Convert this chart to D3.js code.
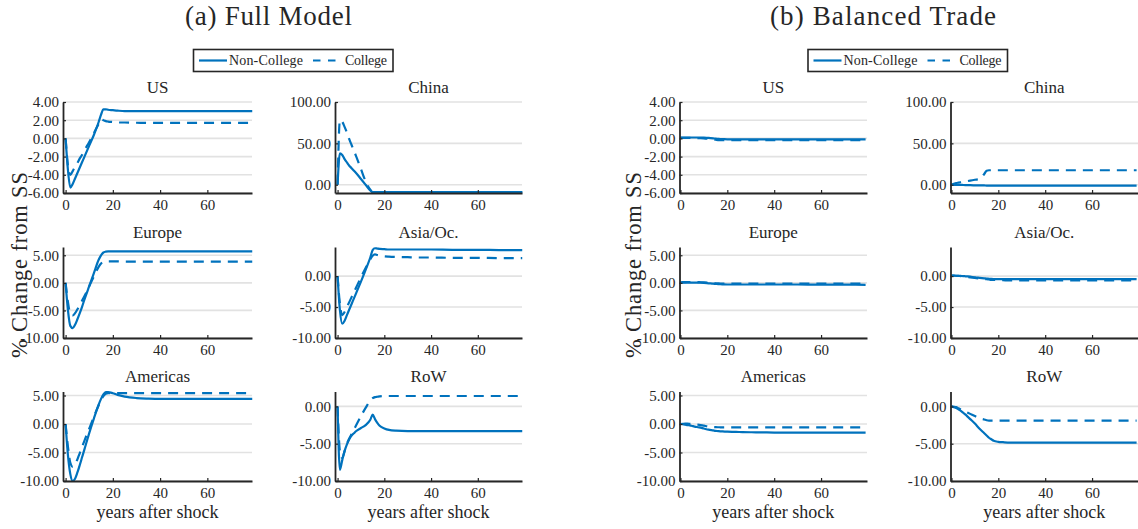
<!DOCTYPE html>
<html>
<head>
<meta charset="utf-8">
<script src="https://cdn.jsdelivr.net/npm/d3@7"></script>
<style>
  html, body { margin: 0; padding: 0; background: #ffffff; }
  svg { display: block; }
  svg text { font-family: "Liberation Serif", "DejaVu Serif", "Noto Serif", serif; fill: #262626; }
</style>
</head>
<body>
<svg id="chart" width="1138" height="529"></svg>
<script>
// ---------------- DATA ----------------
const years = [0,1,2,3,4,5,6,7,8,10,12,14,15,16,17,18,20,22,25,30,35,40,50,60,70,79];
const xTicks = [0, 20, 40, 60];
const regions = ["US", "China", "Europe", "Asia/Oc.", "Americas", "RoW"];
const seriesNames = ["Non-College", "College"];
const panelTitles = ["(a) Full Model", "(b) Balanced Trade"];
const yLabel = "% Change from SS";
const xLabel = "years after shock";

// y-axis limits and ticks per region
const yLow  = [-6, -10, -10, -10, -10, -10];
const yHigh = [4, 100, 6.5, 4.7, 5.7, 2];
const yTicksUS = [-6, -4, -2, 0, 2, 4];
const yTicksChina = [0, 50, 100];
const yTicksEurope = [-10, -5, 0, 5];
const yTicksAsia = [-10, -5, 0];
const yTicksAmericas = [-10, -5, 0, 5];
const yTicksRoW = [-10, -5, 0];

// (a) Full model
const fullUS_NC = [0,-3.5,-5.4,-5.0,-4.4,-3.8,-3.2,-2.6,-2.0,-0.8,0.4,1.8,2.6,3.2,3.2,3.15,3.1,3.05,3.0,3.0,3.0,3.0,3.0,3.0,3.0,3.0];
const fullUS_C  = [0,-3.0,-4.0,-3.6,-3.1,-2.7,-2.2,-1.8,-1.3,-0.4,0.6,1.6,2.1,2.0,1.9,1.85,1.8,1.75,1.75,1.72,1.7,1.7,1.7,1.7,1.7,1.7];
const fullChina_NC = [0,38,36,31,27,23,20,17,14,7,0,-7,-9,-9,-9,-9,-9,-9,-9,-9,-9,-9,-9,-9,-9,-9];
const fullChina_C  = [0,78,76,70,63,55,48,41,34,19,4,-6,-9,-9,-9,-9,-9,-9,-9,-9,-9,-9,-9,-9,-9,-9];
const fullEurope_NC = [0,-5.0,-7.8,-8.2,-7.6,-6.6,-5.5,-4.3,-3.0,-0.6,1.8,4.2,5.0,5.5,5.65,5.7,5.7,5.7,5.7,5.7,5.7,5.7,5.7,5.7,5.7,5.7];
const fullEurope_C  = [0,-3.5,-5.6,-5.9,-5.5,-4.8,-4.0,-3.2,-2.4,-0.6,1.2,2.9,3.5,3.8,3.9,3.9,3.9,3.9,3.85,3.85,3.85,3.85,3.85,3.85,3.85,3.85];
const fullAsia_NC = [0,-5.5,-7.7,-7.2,-6.3,-5.4,-4.5,-3.6,-2.7,-0.9,1.0,3.0,4.2,4.5,4.45,4.4,4.35,4.3,4.3,4.3,4.3,4.3,4.25,4.25,4.2,4.2];
const fullAsia_C  = [0,-4.5,-6.3,-5.8,-5.0,-4.2,-3.4,-2.6,-1.8,-0.2,1.3,2.7,3.3,3.5,3.4,3.3,3.2,3.15,3.1,3.05,3.0,3.0,2.95,2.95,2.9,2.9];
const fullAmericas_NC = [0,-5.5,-8.8,-10,-9.6,-8.5,-7.2,-5.8,-4.4,-1.6,1.0,3.4,4.4,5.2,5.6,5.6,5.4,5.1,4.8,4.55,4.45,4.4,4.4,4.4,4.4,4.4];
const fullAmericas_C  = [0,-4.0,-6.8,-7.5,-7.1,-6.2,-5.1,-4.0,-2.9,-0.8,1.3,3.3,4.2,4.9,5.3,5.4,5.4,5.4,5.4,5.4,5.4,5.4,5.4,5.4,5.4,5.4];
const fullRoW_NC = [0,-8.5,-7.2,-6.0,-5.1,-4.4,-3.9,-3.6,-3.3,-2.9,-2.5,-1.8,-1.1,-1.7,-2.2,-2.6,-2.95,-3.15,-3.25,-3.3,-3.3,-3.3,-3.3,-3.3,-3.3,-3.3];
const fullRoW_C  = [0,-6.0,-6.9,-6.0,-5.0,-4.3,-3.7,-3.1,-2.5,-1.3,-0.2,0.8,1.1,1.25,1.3,1.35,1.4,1.4,1.4,1.4,1.4,1.4,1.4,1.4,1.4,1.4];

// (b) Balanced trade
const balUS_NC = [0.1,0.1,0.1,0.1,0.1,0.1,0.1,0.1,0.1,0.08,0.05,0,-0.03,-0.05,-0.07,-0.08,-0.1,-0.1,-0.1,-0.1,-0.1,-0.1,-0.1,-0.1,-0.1,-0.1];
const balUS_C  = [0.05,0.05,0.05,0.05,0.05,0.05,0.04,0.03,0.02,0,-0.05,-0.12,-0.15,-0.18,-0.2,-0.2,-0.2,-0.2,-0.2,-0.2,-0.2,-0.2,-0.2,-0.2,-0.2,-0.2];
const balChina_NC = [0,-0.1,-0.1,-0.2,-0.2,-0.3,-0.4,-0.5,-0.6,-0.7,-0.8,-0.9,-1.0,-1.0,-1.1,-1.1,-1.2,-1.2,-1.2,-1.2,-1.2,-1.2,-1.2,-1.2,-1.2,-1.2];
const balChina_C  = [0,1,2,2.5,3,3.5,4,4.5,5,6,7,13,17,17.5,17.5,17.5,17.5,17.5,17.5,17.5,17.5,17.5,17.5,17.5,17.5,17.5];
const balEurope_NC = [0,0.02,0.04,0.05,0.05,0.05,0.05,0.04,0.03,0,-0.08,-0.15,-0.2,-0.22,-0.25,-0.27,-0.3,-0.3,-0.3,-0.3,-0.3,-0.3,-0.3,-0.32,-0.33,-0.35];
const balEurope_C  = [0.1,0.12,0.14,0.15,0.15,0.15,0.15,0.14,0.12,0.08,0.02,-0.05,-0.08,-0.1,-0.12,-0.13,-0.15,-0.15,-0.15,-0.15,-0.15,-0.15,-0.15,-0.15,-0.15,-0.15];
const balAsia_NC = [0.1,0.08,0.06,0.04,0.02,0,-0.03,-0.06,-0.1,-0.2,-0.28,-0.36,-0.4,-0.43,-0.46,-0.48,-0.5,-0.5,-0.5,-0.5,-0.5,-0.5,-0.5,-0.5,-0.5,-0.5];
const balAsia_C  = [0.1,0.08,0.05,0.02,0,-0.05,-0.1,-0.15,-0.2,-0.3,-0.4,-0.47,-0.5,-0.55,-0.6,-0.62,-0.65,-0.67,-0.7,-0.7,-0.7,-0.7,-0.7,-0.7,-0.7,-0.7];
const balAmericas_NC = [0,-0.05,-0.1,-0.2,-0.25,-0.35,-0.45,-0.52,-0.6,-0.8,-1.0,-1.13,-1.2,-1.24,-1.28,-1.3,-1.35,-1.38,-1.4,-1.45,-1.47,-1.5,-1.5,-1.5,-1.5,-1.5];
const balAmericas_C  = [0,0.03,0.05,0.05,0.03,0,-0.05,-0.1,-0.15,-0.3,-0.45,-0.52,-0.55,-0.57,-0.58,-0.6,-0.6,-0.6,-0.6,-0.6,-0.6,-0.6,-0.6,-0.6,-0.6,-0.6];
const balRoW_NC = [0,-0.1,-0.2,-0.4,-0.6,-0.85,-1.1,-1.4,-1.7,-2.3,-3.0,-3.6,-3.9,-4.2,-4.4,-4.6,-4.75,-4.8,-4.85,-4.85,-4.85,-4.85,-4.85,-4.85,-4.85,-4.85];
const balRoW_C  = [0,-0.05,-0.1,-0.25,-0.4,-0.55,-0.7,-0.85,-1.0,-1.3,-1.6,-1.75,-1.85,-1.9,-1.9,-1.9,-1.9,-1.9,-1.9,-1.9,-1.9,-1.9,-1.9,-1.9,-1.9,-1.9];

// ---------------- ASSEMBLY ----------------
const yTickSets = [yTicksUS, yTicksChina, yTicksEurope, yTicksAsia, yTicksAmericas, yTicksRoW];
const fullData = [
  [fullUS_NC, fullUS_C], [fullChina_NC, fullChina_C], [fullEurope_NC, fullEurope_C],
  [fullAsia_NC, fullAsia_C], [fullAmericas_NC, fullAmericas_C], [fullRoW_NC, fullRoW_C]
];
const balData = [
  [balUS_NC, balUS_C], [balChina_NC, balChina_C], [balEurope_NC, balEurope_C],
  [balAsia_NC, balAsia_C], [balAmericas_NC, balAmericas_C], [balRoW_NC, balRoW_C]
];

// ---------------- LAYOUT ----------------
const FONT = "'Liberation Serif', 'DejaVu Serif', 'Noto Serif', serif";
const BLUE = "#0072BD";
const AXIS = "#262626";
const GRID = "#e2e2e2";
const rowTop = [102, 247, 391.5];
const rowBottom = [193, 338, 481];
const groups = [
  { data: fullData, cols: [[63, 252], [335, 522]], xMin: -1.1, title: panelTitles[0], titleX: 268.5,
    legendX: 193.5, ylabX: 26.5, titleLen: 167 },
  { data: balData, cols: [[679.5, 867], [950.5, 1138]], xMin: -0.4, title: panelTitles[1], titleX: 883,
    legendX: 808, ylabX: 640.5, titleLen: 226 }
];

const svg = d3.select("#chart");
const fmt = d => d3.format(".2f")(d).replace("\u2212", "-");
const line = d3.line().curve(d3.curveMonotoneX);

function txt(sel) { return sel.attr("font-family", FONT).style("font-family", FONT); }

groups.forEach(g => {
  // panel title
  txt(svg.append("text"))
    .attr("x", g.titleX).attr("y", 25)
    .attr("text-anchor", "middle")
    .attr("font-size", 27)
    .attr("textLength", g.titleLen)
    .attr("lengthAdjust", "spacing")
    .text(g.title);

  // legend
  const lg = svg.append("g").attr("transform", `translate(${g.legendX},49.5)`);
  lg.append("rect").attr("x", 0).attr("y", 0).attr("width", 199.5).attr("height", 22)
    .attr("fill", "#fff").attr("stroke", AXIS).attr("stroke-width", 1.6);
  lg.append("line").attr("x1", 5.5).attr("x2", 33.5).attr("y1", 11).attr("y2", 11)
    .attr("stroke", BLUE).attr("stroke-width", 2.2);
  txt(lg.append("text")).attr("x", 35.5).attr("y", 15.5).attr("font-size", 14)
    .attr("textLength", 74).text(seriesNames[0]);
  lg.append("line").attr("x1", 119.5).attr("x2", 142).attr("y1", 11).attr("y2", 11)
    .attr("stroke", BLUE).attr("stroke-width", 2.2).attr("stroke-dasharray", "7.5,7.5");
  txt(lg.append("text")).attr("x", 151.5).attr("y", 15.5).attr("font-size", 14)
    .attr("textLength", 42).text(seriesNames[1]);

  // y label
  txt(svg.append("text"))
    .attr("transform", `translate(${g.ylabX},${265}) rotate(-90)`)
    .attr("text-anchor", "middle")
    .attr("font-size", 22.5)
    .attr("textLength", 186)
    .attr("lengthAdjust", "spacing")
    .text(yLabel);

  regions.forEach((reg, i) => {
    const r = Math.floor(i / 2), c = i % 2;
    const [x0, x1] = g.cols[c];
    const y0 = rowTop[r], y1 = rowBottom[r];
    const x = d3.scaleLinear().domain([g.xMin, g.xMin + 80]).range([x0, x1]);
    const y = d3.scaleLinear().domain([yLow[i], yHigh[i]]).range([y1, y0]);
    const ticks = yTickSets[i];
    const pg = svg.append("g");

    // gridlines
    pg.append("g").selectAll("line").data(ticks).join("line")
      .attr("x1", x0).attr("x2", x1)
      .attr("y1", d => y(d)).attr("y2", d => y(d))
      .attr("stroke", GRID).attr("stroke-width", 1.6);

    // series
    g.data[i].forEach((vals, s) => {
      const pts = years.map((yr, k) => [x(yr), y(vals[k])]);
      pg.append("path").attr("d", line(pts))
        .attr("fill", "none").attr("stroke", BLUE)
        .attr("stroke-width", 2.2)
        .attr("stroke-linejoin", "round")
        .attr("stroke-dasharray", s === 1 ? "10,7" : null);
    });

    // axes
    const ax = pg.append("g").attr("transform", `translate(0,${y1})`)
      .call(d3.axisBottom(x).tickValues(xTicks).tickFormat(d3.format("d"))
        .tickSizeInner(-3).tickSizeOuter(0).tickPadding(6));
    const ay = pg.append("g").attr("transform", `translate(${x0},0)`)
      .call(d3.axisLeft(y).tickValues(ticks).tickFormat(fmt)
        .tickSizeInner(-3).tickSizeOuter(0).tickPadding(4));
    [ax, ay].forEach(a => {
      a.attr("font-family", FONT);
      a.select(".domain").attr("stroke", AXIS).attr("stroke-width", 1.8);
      a.selectAll(".tick line").attr("stroke", AXIS).attr("stroke-width", 1.2);
      txt(a.selectAll(".tick text")).attr("font-size", 15).attr("fill", AXIS);
    });

    // subplot title
    txt(pg.append("text"))
      .attr("x", (x0 + x1) / 2).attr("y", y0 - 9.5)
      .attr("text-anchor", "middle").attr("font-size", 17)
      .text(reg);

    // x label on bottom row
    if (r === 2) {
      txt(pg.append("text"))
        .attr("x", (x0 + x1) / 2).attr("y", 517.5)
        .attr("text-anchor", "middle").attr("font-size", 18)
        .attr("textLength", 122).attr("lengthAdjust", "spacing")
        .text(xLabel);
    }
  });
});
</script>
</body>
</html>
